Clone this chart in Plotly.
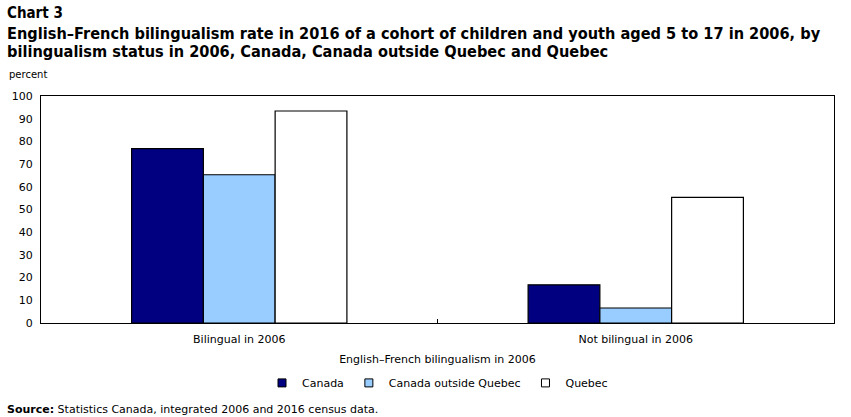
import plotly.graph_objects as go

categories = ["Bilingual in 2006", "Not bilingual in 2006"]
series_names = ["Canada", "Canada outside Quebec", "Quebec"]
canada = [76.8, 16.8]
canada_outside_quebec = [65.3, 6.6]
quebec = [93.4, 55.3]
y_ticks = list(range(0, 101, 10))

colors = ["#000080", "#99CCFF", "#FFFFFF"]
values = [canada, canada_outside_quebec, quebec]

FONT = "DejaVu Sans"
fig = go.Figure()
for name, vals, col in zip(series_names, values, colors):
    fig.add_trace(go.Bar(
        x=categories, y=vals, name=name, showlegend=False,
        marker=dict(color=col, line=dict(color="black", width=1.2)),
    ))
# legend entries (small square swatches)
for name, col in zip(series_names, colors):
    fig.add_trace(go.Scatter(
        x=[None], y=[None], mode="markers", name=name,
        marker=dict(symbol="square", size=8, color=col, line=dict(color="black", width=1)),
    ))

fig.update_layout(
    width=851, height=417,
    margin=dict(l=38, r=17, t=96, b=94),
    paper_bgcolor="white", plot_bgcolor="white",
    barmode="group", bargap=0.457, bargroupgap=0,
    font=dict(family=FONT, size=11, color="black"),
    showlegend=True,
    legend=dict(orientation="h", x=0.5, xanchor="center", y=-0.2, yanchor="top",
                font=dict(family=FONT, size=11), itemwidth=30, tracegroupgap=0,
                traceorder="normal"),
    xaxis=dict(showline=True, linecolor="black", linewidth=1, mirror=True,
               ticks="inside", tickson="boundaries", ticklen=4, tickcolor="black",
               tickfont=dict(family=FONT, size=11), ticklabelstandoff=6,
               title=dict(text="English–French bilingualism in 2006", font=dict(family=FONT, size=11), standoff=10)),
    yaxis=dict(range=[0, 100], tickvals=y_ticks, showline=True, linecolor="black", linewidth=1,
               mirror=True, showgrid=False, ticks="", tickfont=dict(family=FONT, size=11),
               ticklabelstandoff=5, zeroline=False),
)

XL = -0.0455
TFONT = "DejaVu Sans Condensed"
fig.add_annotation(text="<b>Chart 3</b>", xref="paper", yref="paper", x=XL, y=1.0, yshift=83,
                   xanchor="left", yanchor="middle", showarrow=False,
                   font=dict(family=TFONT, size=15))
fig.add_annotation(text="<b>English–French bilingualism rate in 2016 of a cohort of children and youth aged 5 to 17 in 2006, by</b>",
                   xref="paper", yref="paper", x=XL, y=1.0, yshift=63, align="left",
                   xanchor="left", yanchor="middle", showarrow=False,
                   font=dict(family=TFONT, size=16.2))
fig.add_annotation(text="<b>bilingualism status in 2006, Canada, Canada outside Quebec and Quebec</b>",
                   xref="paper", yref="paper", x=XL, y=1.0, yshift=45, align="left",
                   xanchor="left", yanchor="middle", showarrow=False,
                   font=dict(family=TFONT, size=16.2))
fig.add_annotation(text="percent", xref="paper", yref="paper", x=XL + 0.002, y=1.0, yshift=22,
                   xanchor="left", yanchor="middle", showarrow=False,
                   font=dict(family=FONT, size=10))
fig.add_annotation(text="<b>Source:</b> Statistics Canada, integrated 2006 and 2016 census data.",
                   xref="paper", yref="paper", x=XL, y=0, yshift=-86,
                   xanchor="left", yanchor="middle", showarrow=False,
                   font=dict(family=FONT, size=11))

fig.write_html("out.html")
